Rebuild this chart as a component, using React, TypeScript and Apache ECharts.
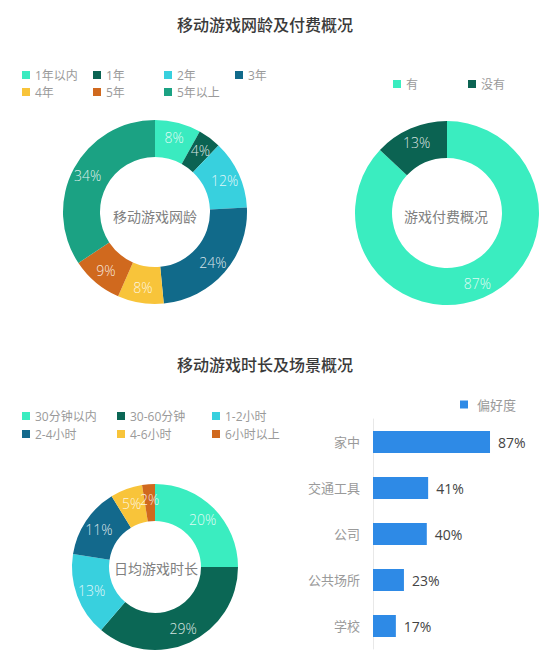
import { useEffect, useRef } from "react";
import * as echarts from "echarts";

const FONT = "'Open Sans', 'Noto Sans CJK SC', sans-serif";

const ageNames = ["1年以内", "1年", "2年", "3年", "4年", "5年", "5年以上"];
const ageValues = [8, 4, 12, 24, 8, 9, 34];
const ageColors = ["#3aebc0", "#0b6352", "#38d0de", "#116a8a", "#f8c43a", "#d0691e", "#1ba283"];

const payNames = ["有", "没有"];
const payValues = [87, 13];
const payColors = ["#3aedc0", "#0b6352"];

const timeNames = ["30分钟以内", "30-60分钟", "1-2小时", "2-4小时", "4-6小时", "6小时以上"];
const timeValues = [20, 29, 13, 11, 5, 2];
const timeColors = ["#3aedc0", "#0b6755", "#38d0de", "#13698c", "#f8c43a", "#d0691e"];

const placeNames = ["家中", "交通工具", "公司", "公共场所", "学校"];
const placeValues = [87, 41, 40, 23, 17];

const toData = (names: string[], values: number[], colors: string[]) =>
  names.map((n, i) => ({ name: n, value: values[i], itemStyle: { color: colors[i] } }));

const legendBase = (w: number, gap: number) => ({
  orient: "horizontal",
  icon: "rect",
  padding: 0,
  itemWidth: 8,
  itemHeight: 8,
  itemGap: gap,
  selectedMode: false,
  textStyle: {
    color: "#9a9a9a",
    fontSize: 12,
    fontFamily: FONT,
    lineHeight: 15,
    width: w,
    overflow: "none",
  },
});

const pieBase = {
  type: "pie",
  startAngle: 90,
  clockwise: true,
  silent: true,
  avoidLabelOverlap: false,
  labelLayout: { hideOverlap: false },
  label: {
    show: true,
    position: "inside",
    formatter: "{c}%",
    color: "rgba(255,255,255,0.85)",
    fontSize: 14,
    fontWeight: 300,
    fontFamily: FONT,
  },
  labelLine: { show: false },
};

const centerText = (text: string, x: number, y: number, size = 14, color = "#808080", weight = "normal") => ({
  type: "text",
  x,
  y,
  style: {
    text,
    fill: color,
    fontSize: size,
    fontWeight: weight,
    fontFamily: FONT,
    textAlign: "center",
    textVerticalAlign: "middle",
  },
});

export default function App() {
  const ref = useRef<HTMLDivElement>(null);

  useEffect(() => {
    if (!ref.current) return;
    const chart = echarts.init(ref.current, null, { renderer: "svg" });
    chart.setOption({
      animation: false,
      backgroundColor: "#ffffff",
      graphic: [
        centerText("移动游戏网龄及付费概况", 265, 25, 16, "#3a3a3a", "500"),
        centerText("移动游戏时长及场景概况", 265, 365, 16, "#3a3a3a", "500"),
        centerText("移动游戏网龄", 155, 216),
        centerText("游戏付费概况", 446, 216),
        centerText("日均游戏时长", 156, 568),
      ],
      legend: [
        { ...legendBase(56, 2), data: ageNames, left: 22, top: 67.5, width: 290 },
        { ...legendBase(57, 5), data: payNames, left: 393, top: 76.5, width: 150 },
        { ...legendBase(79, 3), data: timeNames, left: 22, top: 408.5, width: 290 },
        {
          ...legendBase(60, 5),
          data: ["偏好度"],
          left: 460,
          top: 397,
          textStyle: { color: "#9a9a9a", fontSize: 13, fontFamily: FONT, lineHeight: 15, padding: [0, 0, 0, 4] },
        },
      ],
      grid: { left: 373, top: 419, width: 134.5, height: 230 },
      xAxis: { type: "value", min: 0, max: 100, show: false },
      yAxis: {
        type: "category",
        data: placeNames,
        inverse: true,
        axisLine: { lineStyle: { color: "#e8e8e8" } },
        axisTick: { show: false },
        axisLabel: { color: "#9a9a9a", fontSize: 13, margin: 13, fontFamily: FONT },
      },
      series: [
        { ...pieBase, name: "网龄", center: [155, 212], radius: [55, 92], data: toData(ageNames, ageValues, ageColors) },
        { ...pieBase, name: "付费", center: [447, 213], radius: [55, 92], data: toData(payNames, payValues, payColors) },
        { ...pieBase, name: "时长", center: [155, 567], radius: [46, 83], data: toData(timeNames, timeValues, timeColors) },
        {
          type: "bar",
          name: "偏好度",
          data: placeValues,
          barWidth: 22,
          itemStyle: { color: "#2e8ae6" },
          label: {
            show: true,
            position: "right",
            distance: 8,
            formatter: "{c}%",
            color: "#444444",
            fontSize: 14,
            fontFamily: FONT,
          },
        },
      ],
    });
    return () => chart.dispose();
  }, []);

  return (
    <div
      ref={ref}
      style={{ position: "fixed", left: 0, top: 0, width: 543, height: 660 }}
    />
  );
}
